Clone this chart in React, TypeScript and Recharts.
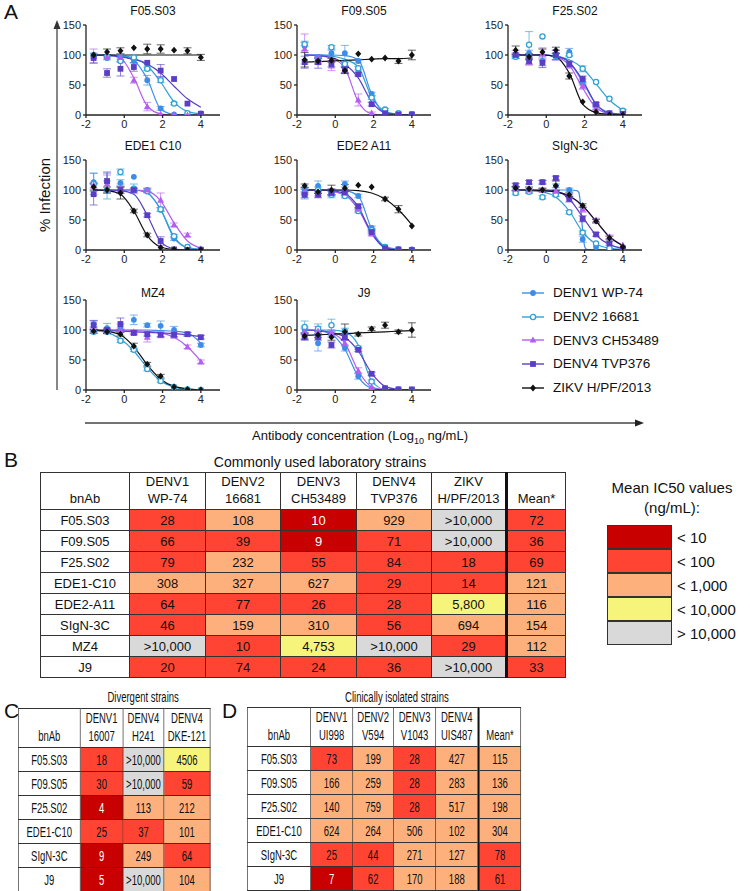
import React from "react";
import { ComposedChart, Line, Scatter, XAxis, YAxis, ErrorBar } from "recharts";

// ---------- panel A data ----------
const X = [-1.6, -0.9, -0.2, 0.5, 1.2, 1.9, 2.6, 3.3, 4.0];
const X_TICKS = [-2, 0, 2, 4];
const Y_TICKS = [0, 50, 100, 150];
const STRAINS = ["DENV1 WP-74", "DENV2 16681", "DENV3 CH53489", "DENV4 TVP376", "ZIKV H/PF/2013"];
const COLORS = ["#3d8de8", "#2fa2d6", "#b25ff0", "#5a3ec6", "#111111"];
const MARKS = ["dot", "ring", "tri", "sq", "dia"];

// rows: DENV1, DENV2, DENV3, DENV4, ZIKV
const F05_PTS = [
  [100, 95, 97, 90, 58, 11, 1, 0, 1],
  [99, 97, 90, 96, 77, 58, 19, 3, 2],
  [98, 97, 96, 58, 14, 1, 0, 0, 0],
  [95, 70, 77, 80, 87, 74, 60, 19, 2],
  [100, 105, 107, 112, 110, 110, 108, 107, 96],
];
const F05_FIT = [
  [100, 100, 98, 91, 60, 10, 1, 0, 0],
  [100, 100, 99, 95, 82, 55, 22, 6, 2],
  [100, 100, 95, 62, 15, 2, 0, 0, 0],
  [100, 99, 97, 93, 85, 70, 48, 27, 13],
  [100, 100, 100, 100, 100, 100, 100, 100, 100],
];
const F05_ERR = [
  [0, 3, 2, 3, 8, 3, 0, 0, 0],
  [0, 2, 2, 0, 3, 4, 2, 0, 0],
  [12, 0, 0, 5, 7, 0, 0, 0, 0],
  [8, 7, 12, 7, 0, 10, 0, 0, 0],
  [0, 5, 5, 0, 8, 7, 0, 5, 5],
];

const F09_PTS = [
  [115, 97, 103, 103, 90, 35, 5, 1, 2],
  [118, 92, 113, 85, 78, 29, 9, 3, 1],
  [110, 95, 82, 75, 25, 3, 0, 0, 0],
  [88, 88, 85, 76, 68, 18, 3, 1, 1],
  [92, 90, 91, 74, 102, 93, 95, 90, 100],
];
const F09_FIT = [
  [100, 100, 100, 99, 92, 35, 3, 0, 0],
  [100, 100, 98, 93, 80, 30, 6, 1, 0],
  [100, 99, 95, 78, 22, 2, 0, 0, 0],
  [100, 99, 96, 85, 62, 22, 4, 1, 0],
  [88, 89, 90, 91, 92, 93, 94, 94, 95],
];
const F09_ERR = [
  [8, 3, 5, 13, 3, 3, 0, 0, 0],
  [3, 3, 3, 3, 3, 3, 2, 0, 0],
  [25, 5, 8, 5, 10, 2, 0, 0, 0],
  [10, 10, 5, 5, 3, 3, 0, 0, 0],
  [12, 5, 3, 5, 0, 0, 0, 4, 8],
];

const F25_PTS = [
  [97, 103, 90, 97, 105, 55, 15, 3, 7],
  [97, 117, 131, 100, 100, 77, 55, 27, 7],
  [103, 88, 102, 100, 83, 48, 12, 2, 0],
  [100, 90, 87, 100, 85, 60, 18, 3, 2],
  [108, 97, 105, 108, 65, 22, 5, 0, 0],
];
const F25_FIT = [
  [100, 100, 100, 98, 88, 55, 18, 4, 1],
  [100, 100, 100, 98, 92, 78, 52, 25, 8],
  [100, 100, 100, 97, 83, 45, 12, 2, 0],
  [100, 100, 100, 98, 88, 58, 18, 3, 1],
  [100, 100, 100, 97, 70, 18, 4, 1, 0],
];
const F25_ERR = [
  [3, 5, 8, 5, 6, 5, 3, 0, 2],
  [3, 22, 0, 3, 3, 5, 0, 0, 0],
  [5, 5, 10, 8, 5, 5, 3, 0, 0],
  [3, 5, 8, 8, 5, 5, 3, 0, 0],
  [7, 5, 5, 5, 5, 0, 0, 0, 0],
];

const EDE1_PTS = [
  [113, 113, 112, 122, 100, 67, 19, 5, 1],
  [110, 100, 130, 102, 98, 68, 23, 5, 1],
  [108, 110, 102, 100, 100, 83, 42, 25, 2],
  [93, 115, 100, 100, 58, 15, 1, 0, 0],
  [105, 100, 95, 65, 25, 4, 1, 0, 0],
];
const EDE1_FIT = [
  [100, 100, 100, 100, 95, 67, 20, 4, 1],
  [100, 100, 100, 100, 95, 68, 22, 4, 1],
  [100, 100, 100, 100, 98, 82, 45, 15, 3],
  [100, 100, 99, 93, 58, 14, 2, 0, 0],
  [100, 99, 93, 65, 24, 5, 1, 0, 0],
];
const EDE1_ERR = [
  [15, 15, 5, 0, 3, 3, 3, 0, 0],
  [18, 15, 5, 8, 3, 3, 3, 0, 0],
  [5, 15, 8, 3, 3, 12, 3, 3, 0],
  [18, 15, 5, 3, 3, 7, 0, 0, 0],
  [5, 5, 10, 3, 3, 0, 0, 0, 0],
];

const EDE2_PTS = [
  [100, 107, 97, 110, 90, 37, 5, 1, 1],
  [93, 100, 92, 90, 65, 33, 5, 1, 0],
  [97, 95, 97, 95, 68, 27, 3, 0, 0],
  [92, 92, 95, 96, 73, 30, 3, 1, 0],
  [107, 97, 100, 103, 108, 105, 85, 68, 40],
];
const EDE2_FIT = [
  [100, 100, 100, 99, 90, 35, 4, 1, 0],
  [100, 100, 98, 92, 68, 30, 6, 1, 0],
  [100, 100, 98, 92, 68, 27, 4, 0, 0],
  [100, 100, 99, 94, 72, 28, 4, 0, 0],
  [100, 100, 100, 100, 99, 95, 85, 67, 42],
];
const EDE2_ERR = [
  [5, 8, 5, 5, 3, 3, 0, 0, 0],
  [8, 5, 5, 3, 3, 3, 0, 0, 0],
  [5, 5, 5, 5, 3, 3, 0, 0, 0],
  [5, 5, 5, 5, 3, 3, 0, 0, 0],
  [3, 3, 8, 6, 0, 0, 3, 6, 0],
];

const SIGN_PTS = [
  [102, 98, 113, 107, 100, 18, 5, 2, 2],
  [95, 97, 88, 92, 63, 29, 11, 3, 2],
  [102, 100, 100, 98, 90, 68, 50, 22, 8],
  [108, 113, 113, 120, 85, 52, 26, 11, 3],
  [103, 102, 100, 107, 92, 74, 48, 20, 5],
];
const SIGN_FIT = [
  [100, 100, 100, 99, 96, 72, 32, 7, 1, 0, 0],
  [100, 99, 97, 88, 65, 30, 10, 3, 1],
  [100, 100, 99, 97, 90, 73, 48, 22, 8],
  [100, 100, 100, 98, 85, 55, 25, 9, 3],
  [100, 100, 99, 97, 90, 74, 48, 22, 7],
];
// the DENV1 fit in SIgN-3C drops steeply, so it is read at its own x values
const SIGN_D1_FIT_X = [-1.6, -0.2, 1.2, 1.6, 1.7, 1.8, 1.9, 2.0, 2.1, 2.6, 4.0];
const SIGN_ERR = [
  [3, 3, 3, 3, 3, 5, 0, 0, 0],
  [3, 3, 3, 3, 3, 3, 0, 0, 0],
  [3, 3, 3, 3, 3, 5, 3, 3, 0],
  [3, 3, 3, 3, 5, 5, 3, 3, 0],
  [3, 3, 3, 8, 3, 3, 3, 3, 0],
];

const MZ4_PTS = [
  [110, 103, 105, 117, 108, 107, 100, 93, 75],
  [97, 97, 82, 67, 35, 15, 5, 1, 0],
  [100, 100, 100, 97, 88, 92, 90, 72, 47],
  [108, 100, 110, 95, 93, 92, 92, 93, 88],
  [98, 97, 93, 73, 43, 23, 5, 1, 0],
];
const MZ4_FIT = [
  [100, 100, 100, 100, 100, 99, 98, 95, 78],
  [99, 96, 85, 65, 37, 15, 5, 1, 0],
  [100, 100, 100, 99, 98, 95, 88, 72, 48],
  [100, 99, 98, 97, 96, 95, 94, 92, 89],
  [100, 98, 92, 72, 42, 18, 6, 2, 0],
];
const MZ4_ERR = [
  [5, 8, 5, 8, 3, 8, 6, 3, 3],
  [3, 3, 3, 3, 3, 3, 0, 0, 0],
  [3, 3, 3, 3, 8, 5, 3, 3, 3],
  [8, 3, 10, 3, 3, 3, 3, 3, 3],
  [3, 3, 3, 5, 3, 3, 0, 0, 0],
];

const J9_PTS = [
  [100, 78, 93, 70, 23, 2, 0, 0, 0],
  [105, 102, 108, 98, 70, 14, 2, 1, 0],
  [97, 98, 95, 78, 32, 5, 1, 0, 0],
  [88, 88, 75, 88, 67, 27, 3, 1, 1],
  [90, 92, 88, 97, 93, 102, 108, 97, 100],
];
const J9_FIT = [
  [100, 99, 93, 68, 22, 3, 0, 0, 0],
  [100, 100, 100, 97, 75, 15, 1, 0, 0],
  [100, 99, 95, 78, 32, 5, 1, 0, 0],
  [100, 99, 96, 88, 65, 28, 6, 1, 0],
  [91, 92, 93, 94, 95, 96, 97, 98, 99],
];
const J9_ERR = [
  [5, 13, 5, 5, 5, 0, 0, 0, 0],
  [10, 8, 10, 5, 3, 3, 0, 0, 0],
  [5, 8, 5, 5, 5, 0, 0, 0, 0],
  [5, 5, 5, 5, 3, 3, 0, 0, 0],
  [5, 5, 5, 13, 3, 3, 5, 3, 12],
];

const PANELS = [
  { title: "F05.S03", left: 86, top: 25, pts: F05_PTS, fit: F05_FIT, err: F05_ERR },
  { title: "F09.S05", left: 297, top: 25, pts: F09_PTS, fit: F09_FIT, err: F09_ERR },
  { title: "F25.S02", left: 508, top: 25, pts: F25_PTS, fit: F25_FIT, err: F25_ERR },
  { title: "EDE1 C10", left: 86, top: 160, pts: EDE1_PTS, fit: EDE1_FIT, err: EDE1_ERR },
  { title: "EDE2 A11", left: 297, top: 160, pts: EDE2_PTS, fit: EDE2_FIT, err: EDE2_ERR },
  { title: "SIgN-3C", left: 508, top: 160, pts: SIGN_PTS, fit: SIGN_FIT, err: SIGN_ERR, fitX: [SIGN_D1_FIT_X] },
  { title: "MZ4", left: 86, top: 300, pts: MZ4_PTS, fit: MZ4_FIT, err: MZ4_ERR },
  { title: "J9", left: 297, top: 300, pts: J9_PTS, fit: J9_FIT, err: J9_ERR },
];

// ---------- tables data ----------
const B_HEADERS = [["bnAb"], ["DENV1", "WP-74"], ["DENV2", "16681"], ["DENV3", "CH53489"], ["DENV4", "TVP376"], ["ZIKV", "H/PF/2013"], ["Mean*"]];
const B_ANTIBODIES = ["F05.S03", "F09.S05", "F25.S02", "EDE1-C10", "EDE2-A11", "SIgN-3C", "MZ4", "J9"];
const B_VALUES = [
  ["28", "108", "10", "929", ">10,000", "72"],
  ["66", "39", "9", "71", ">10,000", "36"],
  ["79", "232", "55", "84", "18", "69"],
  ["308", "327", "627", "29", "14", "121"],
  ["64", "77", "26", "28", "5,800", "116"],
  ["46", "159", "310", "56", "694", "154"],
  [">10,000", "10", "4,753", ">10,000", "29", "112"],
  ["20", "74", "24", "36", ">10,000", "33"],
];
const B_LEVELS = ["RODOGR", "RRDRGR", "RORRRR", "OOORRO", "RRRRYO", "ROOROO", "GRYGRO", "RRRRGR"];

const C_HEADERS = [["bnAb"], ["DENV1", "16007"], ["DENV4", "H241"], ["DENV4", "DKE-121"]];
const C_ANTIBODIES = ["F05.S03", "F09.S05", "F25.S02", "EDE1-C10", "SIgN-3C", "J9"];
const C_VALUES = [
  ["18", ">10,000", "4506"],
  ["30", ">10,000", "59"],
  ["4", "113", "212"],
  ["25", "37", "101"],
  ["9", "249", "64"],
  ["5", ">10,000", "104"],
];
const C_LEVELS = ["RGY", "RGR", "DOO", "RRO", "DOR", "DGO"];

const D_HEADERS = [["bnAb"], ["DENV1", "UI998"], ["DENV2", "V594"], ["DENV3", "V1043"], ["DENV4", "UIS487"], ["Mean*"]];
const D_ANTIBODIES = ["F05.S03", "F09.S05", "F25.S02", "EDE1-C10", "SIgN-3C", "J9"];
const D_VALUES = [
  ["73", "199", "28", "427", "115"],
  ["166", "259", "28", "283", "136"],
  ["140", "759", "28", "517", "198"],
  ["624", "264", "506", "102", "304"],
  ["25", "44", "271", "127", "78"],
  ["7", "62", "170", "188", "61"],
];
const D_LEVELS = ["ROROO", "OOROO", "OOROO", "OOOOO", "RROOR", "DROOR"];

const KEY_LABELS = ["< 10", "< 100", "< 1,000", "< 10,000", "> 10,000"];
const KEY_LEVELS = "DROYG";
const LEVEL_COLORS: Record<string, string> = {
  D: "#c80000",
  R: "#ff4433",
  O: "#fdb07b",
  Y: "#f7f47c",
  G: "#d9d9d9",
};

const FONT = '"Liberation Sans", Arial, Helvetica, sans-serif';
const AXIS = "#222";

function Marker(props: any) {
  const { cx, cy, kind, color } = props;
  if (cx == null || cy == null) return null;
  if (kind === "dot") return <circle cx={cx} cy={cy} r={2.9} fill={color} />;
  if (kind === "ring") return <circle cx={cx} cy={cy} r={2.6} fill="#fff" stroke={color} strokeWidth={1.3} />;
  if (kind === "tri")
    return <polygon points={`${cx},${cy - 3.6} ${cx - 3.4},${cy + 2.6} ${cx + 3.4},${cy + 2.6}`} fill={color} />;
  if (kind === "sq") return <rect x={cx - 2.9} y={cy - 2.9} width={5.8} height={5.8} fill={color} />;
  return <polygon points={`${cx},${cy - 3.4} ${cx + 3},${cy} ${cx},${cy + 3.4} ${cx - 3},${cy}`} fill={color} />;
}

function DosePanel({ p }: { p: any }) {
  const fits = p.fit.map((ys: number[], i: number) => {
    const xs = (p.fitX && p.fitX[i]) || X;
    return ys.map((y, j) => ({ x: xs[j], y }));
  });
  const pts = p.pts.map((ys: number[], i: number) =>
    ys.map((y, j) => ({ x: X[j], y, e: p.err[i][j] > 0 ? p.err[i][j] : undefined }))
  );
  const tick = { fontSize: 11, fill: AXIS, fontFamily: FONT };
  return (
    <div style={{ position: "absolute", left: p.left - 40, top: p.top - 20, zIndex: 2 }}>
      <ComposedChart width={184} height={130} margin={{ top: 20, right: 10, bottom: 0, left: 0 }}>
        <XAxis
          type="number"
          dataKey="x"
          domain={[-2, 5]}
          ticks={X_TICKS}
          interval={0}
          allowDataOverflow
          height={20}
          tickSize={3}
          tick={tick}
          axisLine={{ stroke: AXIS, strokeWidth: 1.3 }}
          tickLine={{ stroke: AXIS, strokeWidth: 1.3 }}
        />
        <YAxis
          type="number"
          dataKey="y"
          domain={[0, 150]}
          ticks={Y_TICKS}
          interval={0}
          allowDataOverflow
          width={40}
          tickSize={3}
          tick={tick}
          axisLine={{ stroke: AXIS, strokeWidth: 1.3 }}
          tickLine={{ stroke: AXIS, strokeWidth: 1.3 }}
        />
        {fits.map((d: any[], i: number) => (
          <Line
            key={"f" + i}
            data={d}
            dataKey="y"
            type="monotone"
            dot={false}
            activeDot={false}
            stroke={COLORS[i]}
            strokeWidth={1.2}
            isAnimationActive={false}
          />
        ))}
        {pts.map((d: any[], i: number) => (
          <Scatter
            key={"s" + i}
            data={d}
            dataKey="y"
            isAnimationActive={false}
            shape={(sp: any) => <Marker {...sp} kind={MARKS[i]} color={COLORS[i]} />}
          >
            <ErrorBar dataKey="e" direction="y" width={4} stroke={COLORS[i]} strokeOpacity={0.65} strokeWidth={1} />
          </Scatter>
        ))}
      </ComposedChart>
    </div>
  );
}

function LegendA() {
  return (
    <div style={{ position: "absolute", left: 521, top: 281 }}>
      {STRAINS.map((s, i) => (
        <div key={s} style={{ display: "flex", alignItems: "center", height: 23.7 }}>
          <svg width={24} height={12}>
            <line x1={1} x2={23} y1={6} y2={6} stroke={COLORS[i]} strokeWidth={1.4} />
            <Marker kind={MARKS[i]} color={COLORS[i]} cx={12} cy={6} />
          </svg>
          <span style={{ marginLeft: 8, fontSize: 13.5, color: "#111" }}>{s}</span>
        </div>
      ))}
    </div>
  );
}

function HeatTable(props: {
  headers: string[][];
  names: string[];
  values: string[][];
  levels: string[];
  widths: number[];
  headerH: number;
  rowH: number;
  fontSize: number;
  lineH: number;
  meanCol?: number;
}) {
  const { headers, names, values, levels, widths, headerH, rowH, fontSize, lineH, meanCol } = props;
  const border = "1px solid #333";
  const cellBase = (c: number): React.CSSProperties => ({
    border,
    borderLeft: c === meanCol ? "3px solid #111" : border,
    textAlign: "center",
    padding: 0,
    fontSize,
  });
  return (
    <table
      style={{
        borderCollapse: "collapse",
        tableLayout: "fixed",
        width: widths.reduce((a, b) => a + b, 0),
        border: "1.5px solid #333",
        fontFamily: FONT,
        color: "#111",
      }}
    >
      <colgroup>
        {widths.map((w, i) => (
          <col key={i} style={{ width: w }} />
        ))}
      </colgroup>
      <tbody>
        <tr style={{ height: headerH }}>
          {headers.map((h, c) => (
            <td key={c} style={{ ...cellBase(c), verticalAlign: "bottom", lineHeight: lineH + "px", paddingBottom: 2 }}>
              {h.map((line) => (
                <div key={line}>{line}</div>
              ))}
            </td>
          ))}
        </tr>
        {names.map((n, r) => (
          <tr key={n} style={{ height: rowH }}>
            <td style={{ ...cellBase(0), background: "#fff" }}>{n}</td>
            {values[r].map((v, c) => {
              const lv = levels[r][c];
              return (
                <td
                  key={c}
                  style={{
                    ...cellBase(c + 1),
                    background: LEVEL_COLORS[lv],
                    color: lv === "D" ? "#fff" : "#111",
                  }}
                >
                  {v}
                </td>
              );
            })}
          </tr>
        ))}
      </tbody>
    </table>
  );
}

const abs = (left: number, top: number, extra: React.CSSProperties = {}): React.CSSProperties => ({
  position: "absolute",
  left,
  top,
  ...extra,
});

export default function App() {
  return (
    <div
      style={{
        position: "absolute",
        left: 0,
        top: 0,
        width: 750,
        height: 891,
        overflow: "hidden",
        background: "#fff",
        fontFamily: FONT,
        color: "#111",
      }}
    >
      {/* panel A: decorations first, charts painted over them */}
      <svg width={750} height={450} style={{ position: "absolute", left: 0, top: 0, zIndex: 0 }}>
        <line x1={57} x2={57} y1={390} y2={27} stroke="#555" strokeWidth={1.4} />
        <polygon points="57,20 53.5,29 60.5,29" fill="#333" />
        <line x1={85} x2={636} y1={423} y2={423} stroke="#444" strokeWidth={1.4} />
        <polygon points="644,423 635,419.5 635,426.5" fill="#222" />
      </svg>
      <div style={abs(4, 0, { fontSize: 21, lineHeight: "24px", zIndex: 1 })}>A</div>
      {PANELS.map((p) => (
        <div
          key={"t" + p.title}
          style={abs(p.left, p.top - (p.top > 250 ? 14 : 21), {
            width: 134,
            textAlign: "center",
            fontSize: 12,
            lineHeight: "14px",
            zIndex: 1,
          })}
        >
          {p.title}
        </div>
      ))}
      {PANELS.map((p) => (
        <DosePanel key={p.title} p={p} />
      ))}
      <LegendA />
      <div
        style={abs(44, 195, {
          transform: "translate(-50%, -50%) rotate(-90deg)",
          whiteSpace: "nowrap",
          fontSize: 15,
        })}
      >
        % Infection
      </div>
      <div style={abs(160, 428, { width: 400, textAlign: "center", fontSize: 13, whiteSpace: "nowrap" })}>
        Antibody concentration (Log<sub style={{ fontSize: 9 }}>10</sub> ng/mL)
      </div>

      {/* panel B */}
      <div style={abs(4, 448, { fontSize: 21, lineHeight: "24px" })}>B</div>
      <div style={abs(40, 454, { width: 560, textAlign: "center", fontSize: 14 })}>Commonly used laboratory strains</div>
      <div style={abs(40, 472)}>
        <HeatTable
          headers={B_HEADERS}
          names={B_ANTIBODIES}
          values={B_VALUES}
          levels={B_LEVELS}
          widths={[89, 76, 75, 76, 75, 75, 59]}
          headerH={36}
          rowH={21}
          fontSize={13}
          lineH={17}
          meanCol={6}
        />
      </div>
      <div style={abs(592, 478, { width: 160, textAlign: "center", fontSize: 15, lineHeight: "20px" })}>
        Mean IC50 values
        <br />
        (ng/mL):
      </div>
      <div style={abs(607, 525)}>
        {KEY_LABELS.map((l, i) => (
          <div key={l} style={{ display: "flex", alignItems: "center", height: 24 }}>
            <div
              style={{
                width: 65,
                height: 24,
                boxSizing: "border-box",
                border: "1px solid #333",
                background: LEVEL_COLORS[KEY_LEVELS[i]],
              }}
            />
            <span style={{ marginLeft: 5, fontSize: 15 }}>{l}</span>
          </div>
        ))}
      </div>

      {/* panel C */}
      <div style={abs(4, 699, { fontSize: 21, lineHeight: "24px" })}>C</div>
      <div style={abs(18, 689, { transform: "scaleX(0.68)", transformOrigin: "0 0" })}>
        <div style={{ width: 368, textAlign: "center", fontSize: 14, height: 19 }}>Divergent strains</div>
        <HeatTable
          headers={C_HEADERS}
          names={C_ANTIBODIES}
          values={C_VALUES}
          levels={C_LEVELS}
          widths={[91, 63, 60, 68]}
          headerH={37}
          rowH={24}
          fontSize={14}
          lineH={18}
        />
      </div>

      {/* panel D */}
      <div style={abs(222, 699, { fontSize: 21, lineHeight: "24px" })}>D</div>
      <div style={abs(247, 689, { transform: "scaleX(0.68)", transformOrigin: "0 0" })}>
        <div style={{ width: 441, textAlign: "center", fontSize: 14, height: 18 }}>Clinically isolated strains</div>
        <HeatTable
          headers={D_HEADERS}
          names={D_ANTIBODIES}
          values={D_VALUES}
          levels={D_LEVELS}
          widths={[93, 62, 60, 62, 63, 62]}
          headerH={38}
          rowH={24}
          fontSize={14}
          lineH={18}
          meanCol={5}
        />
      </div>
    </div>
  );
}
